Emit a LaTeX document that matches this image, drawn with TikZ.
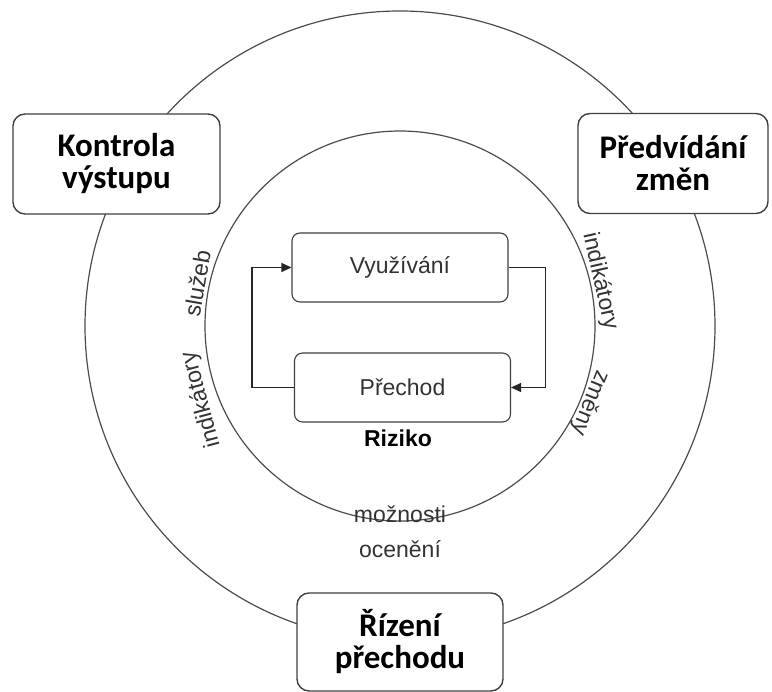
\documentclass[tikz,border=0pt]{standalone}
\usepackage{fontspec}
\setmainfont{Liberation Sans}
\newfontfamily\cardfont{Carlito}
\usepackage{tikz}
\usetikzlibrary{arrows.meta}

\begin{document}
\begin{tikzpicture}[x=1pt,y=-1pt,
		ring/.style={draw=black!70,line width=1.2pt},
		bigbox/.style={draw=black!75,fill=white,rounded corners=12pt,line width=1.4pt,
			minimum height=100pt,align=center,
			font=\cardfont\bfseries\fontsize{33}{32}\selectfont},
		stagebox/.style={draw=black!75,fill=white,rounded corners=8pt,line width=1.1pt,
			minimum width=216pt,minimum height=69pt,text=black!80,
			font=\fontsize{23}{23}\selectfont},
		ringlabel/.style={anchor=base,inner sep=0pt,text=black!80,
			font=\fontsize{23}{23}\selectfont},
		flow/.style={draw=black!85,line width=1.1pt,-{Triangle[length=10pt,width=9pt]}}]
		\def\rin{195pt}
		\def\rout{315pt}
		\def\rl{199pt}
		\useasboundingbox (0,0) rectangle (772,692);
		\coordinate (c) at (400,326);
		\draw [ring] (c) circle [radius=\rout];
		\draw [ring] (c) circle [radius=\rin];
		\node [bigbox,minimum width=207pt] (kontrola) at (116.5,164) {Kontrola\\výstupu};
		\node [bigbox,minimum width=190pt] (predvidani) at (673,163.5) {Předvídání\\změn};
		\node [bigbox,minimum width=206pt,minimum height=98pt] (rizeni) at (400,642) {Řízení\\přechodu};
		\node [stagebox] (vyuzivani) at (400,267.5) {Využívání};
		\node [stagebox] (prechod) at (402.5,387.5) {Přechod};
		\node [font=\bfseries\fontsize{23}{23}\selectfont] (riziko) at (398,438) {Riziko};
		\draw [flow] (vyuzivani.east) -- ++(37,0) |- (prechod.east);
		\draw [flow] (prechod.west) -- ++(-42,0) |- (vyuzivani.west);
		\path (c) ++(168:\rl) node [ringlabel,rotate=80] (sluzeb) {služeb};
		\path (c) ++(200.5:206pt) node [ringlabel,rotate=105] (indikatoryl) {indikátory};
		\path (c) ++(12.7:\rl) node [ringlabel,rotate=-77.3] (indikatoryr) {indikátory};
		\path (c) ++(-22:\rl) node [ringlabel,rotate=-112] (zmeny) {změny};
		\node [align=center,text=black!80,font=\fontsize{23}{35}\selectfont] (moznosti) at (400,532) {možnosti\\ocenění};
	\end{tikzpicture}
\end{document}
